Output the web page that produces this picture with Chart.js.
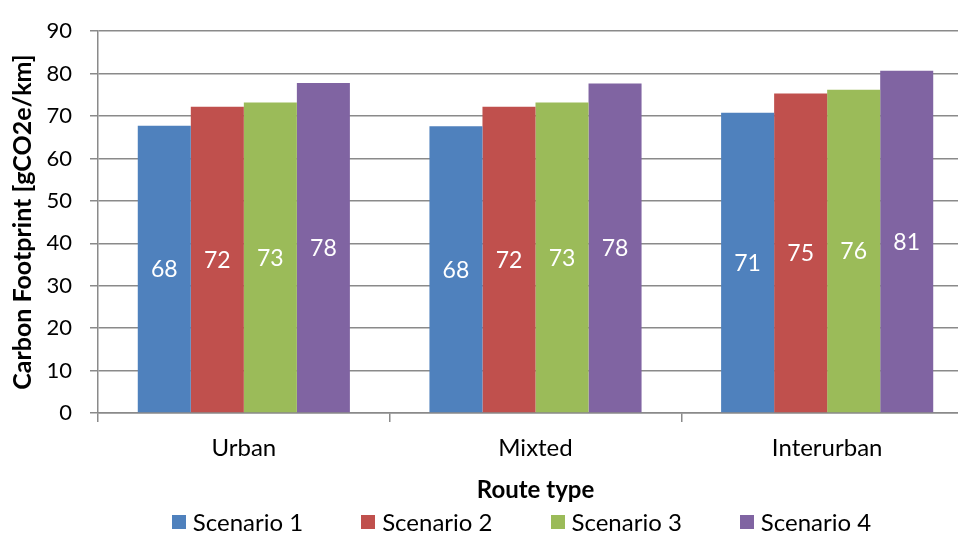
<!DOCTYPE html>
<html>
<head>
<meta charset="utf-8">
<title>Carbon footprint by route type</title>
<script src="https://cdn.jsdelivr.net/npm/chart.js@4/dist/chart.umd.min.js"></script>
<style>
  html, body { margin: 0; padding: 0; background: #ffffff; width: 958px; height: 533px; overflow: hidden; }
  canvas { display: block; }
</style>
</head>
<body>
<canvas id="chart" width="973" height="533"></canvas>
<script>
// Route categories and scenario names
const routeTypes = ['Urban', 'Mixted', 'Interurban'];
const scenarioNames = ['Scenario 1', 'Scenario 2', 'Scenario 3', 'Scenario 4'];

// Carbon footprint per scenario, gCO2e/km, one value per route type
const scenario1 = [67.7, 67.6, 70.8];
const scenario2 = [72.2, 72.2, 75.3];
const scenario3 = [73.2, 73.2, 76.2];
const scenario4 = [77.8, 77.7, 80.7];

// Value axis ticks
const yTickValues = [0, 10, 20, 30, 40, 50, 60, 70, 80, 90];

const seriesValues = [scenario1, scenario2, scenario3, scenario4];
const seriesColors = ['#4F81BD', '#C0504D', '#9BBB59', '#8064A2'];

const FONT = 'Lato, "Open Sans", sans-serif';
const GRID = '#8a8a8a';

// White value labels centred inside each bar
const barValueLabels = {
  id: 'barValueLabels',
  afterDatasetsDraw(chart) {
    const ctx = chart.ctx;
    ctx.save();
    ctx.font = '23px ' + FONT;
    ctx.fillStyle = '#ffffff';
    ctx.textAlign = 'center';
    ctx.textBaseline = 'middle';
    chart.data.datasets.forEach((ds, di) => {
      const meta = chart.getDatasetMeta(di);
      meta.data.forEach((bar, i) => {
        const v = ds.data[i];
        ctx.fillText(String(Math.round(v)), bar.x, (bar.y + bar.base) / 2 + 1);
      });
    });
    ctx.restore();
  }
};

// Single-row legend under the axis title
const bottomLegend = {
  id: 'bottomLegend',
  afterDraw(chart) {
    const ctx = chart.ctx;
    const box = 14, gapText = 7, gapItem = 58;
    ctx.save();
    ctx.font = '24px ' + FONT;
    ctx.textBaseline = 'middle';
    ctx.textAlign = 'left';
    const items = chart.data.datasets.map(ds => ({
      text: ds.label, color: ds.backgroundColor, w: ctx.measureText(ds.label).width
    }));
    const total = items.reduce((s, it) => s + box + gapText + it.w, 0) + gapItem * (items.length - 1);
    const centerX = (chart.chartArea.left + chart.chartArea.right) / 2 - 14;
    const cy = chart.height - 11;
    let x = centerX - total / 2;
    items.forEach(it => {
      ctx.fillStyle = it.color;
      ctx.fillRect(Math.round(x), Math.round(cy - box / 2), box, box);
      ctx.fillStyle = '#000000';
      ctx.fillText(it.text, x + box + gapText, cy + 1);
      x += box + gapText + it.w + gapItem;
    });
    ctx.restore();
  }
};

new Chart(document.getElementById('chart'), {
  type: 'bar',
  data: {
    labels: routeTypes,
    datasets: scenarioNames.map((name, i) => ({
      label: name,
      data: seriesValues[i],
      backgroundColor: seriesColors[i],
      borderWidth: 0,
      categoryPercentage: 4 / 5.5,
      barPercentage: 1
    }))
  },
  options: {
    responsive: false,
    devicePixelRatio: 1,
    animation: false,
    layout: { padding: { top: 23, right: 0, bottom: 28, left: 0 } },
    plugins: {
      legend: { display: false },
      tooltip: { enabled: false }
    },
    scales: {
      x: {
        offset: true,
        grid: {
          display: true,
          offset: true,
          drawOnChartArea: false,
          drawTicks: true,
          tickLength: 9,
          color: GRID,
          lineWidth: 1.5
        },
        border: { display: true, color: GRID, width: 1.5 },
        ticks: { color: '#000000', font: { family: FONT, size: 24 }, padding: 12 },
        title: {
          display: true,
          text: 'Route type',
          color: '#000000',
          font: { family: FONT, size: 24, weight: 'bold' },
          padding: { top: 0, bottom: 0 }
        },
        afterFit(scale) { scale.height = 92; }
      },
      y: {
        min: 0,
        max: 90,
        afterBuildTicks(scale) { scale.ticks = yTickValues.map(v => ({ value: v })); },
        grid: {
          color: GRID,
          lineWidth: 1.5,
          drawTicks: true,
          tickLength: 8
        },
        border: { display: true, color: GRID, width: 1.5 },
        ticks: { color: '#000000', font: { family: FONT, size: 22 }, padding: 18 },
        title: {
          display: true,
          text: 'Carbon Footprint [gCO2e/km]',
          color: '#000000',
          font: { family: FONT, size: 25, weight: 'bold' },
          padding: { top: 8, bottom: 0 }
        },
        afterFit(scale) { scale.width = 98; }
      }
    }
  },
  plugins: [barValueLabels, bottomLegend]
});
</script>
</body>
</html>
